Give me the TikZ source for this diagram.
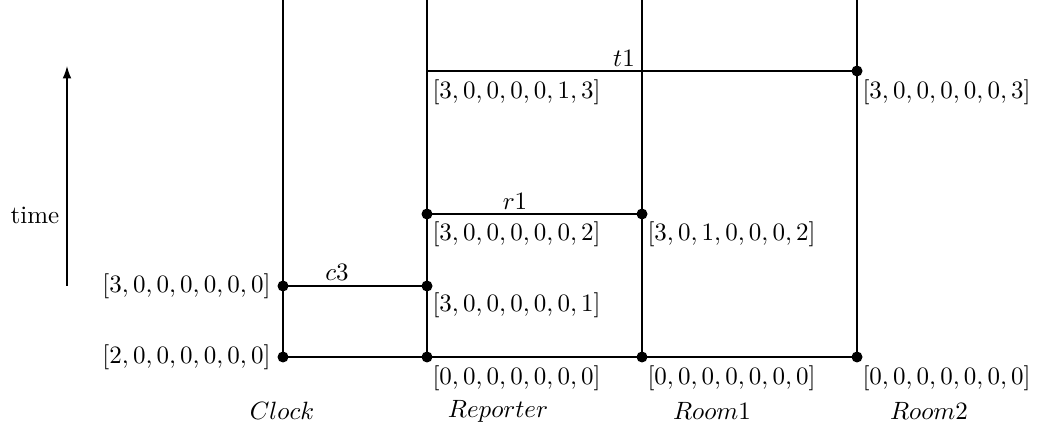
\documentclass[tikz,border=0pt]{standalone}
\usetikzlibrary{arrows.meta}
\begin{document}
\begin{tikzpicture}[x=0.4pt,y=-0.4pt,
  dot/.style={circle,fill,inner sep=0pt,minimum size=4.4pt},
  vecl/.style={inner sep=0pt,anchor=east},
  vecb/.style={inner sep=0pt,anchor=north west},
  evt/.style={inner sep=0pt,anchor=base},
  proc/.style={inner sep=0pt},
  ln/.style={line width=0.5pt}]
\useasboundingbox (0,0) rectangle (1038,431);
% tops of process lines
\coordinate (ctop) at (283,0);
\coordinate (rtop) at (427,0);
\coordinate (otop) at (642,0);
\coordinate (ttop) at (857,0);
% events
\node[dot] (cb) at (283,357) {};
\node[dot] (cc) at (283,286) {};
\node[dot] (rb) at (427,357) {};
\node[dot] (rc) at (427,286) {};
\node[dot] (rr) at (427,214) {};
\coordinate (rt) at (427,71);
\node[dot] (ob) at (642,357) {};
\node[dot] (or) at (642,214) {};
\node[dot] (tb) at (857,357) {};
\node[dot] (tt) at (857,71) {};
% lines
\draw[ln] (ctop) -- (cb.center);
\draw[ln] (rtop) -- (rb.center);
\draw[ln] (otop) -- (ob.center);
\draw[ln] (ttop) -- (tb.center);
\draw[ln] (cb.center) -- (rb.center) -- (ob.center) -- (tb.center);
\draw[ln] (cc.center) -- (rc.center);
\draw[ln] (rr.center) -- (or.center);
\draw[ln] (rt) -- (tt.center);
% event labels
\node[evt] (lc3) at (337,281) {$c3$};
\node[evt] (lr1) at (515,210) {$r1$};
\node[evt] (lt1) at (624,67) {$t1$};
% vector clocks
\node[vecl] (vcb) at (271,357) {$[2,0,0,0,0,0,0]$};
\node[vecl] (vcc) at (271,286) {$[3,0,0,0,0,0,0]$};
\node[vecb] (vrb) at (432,365) {$[0,0,0,0,0,0,0]$};
\node[vecb] (vob) at (647,365) {$[0,0,0,0,0,0,0]$};
\node[vecb] (vtb) at (862,365) {$[0,0,0,0,0,0,0]$};
\node[vecb] (vrc) at (432,292) {$[3,0,0,0,0,0,1]$};
\node[vecb] (vrr) at (432,221) {$[3,0,0,0,0,0,2]$};
\node[vecb] (vor) at (647,221) {$[3,0,1,0,0,0,2]$};
\node[vecb] (vrt) at (432,79) {$[3,0,0,0,0,1,3]$};
\node[vecb] (vtt) at (862,79) {$[3,0,0,0,0,0,3]$};
% process names
\node[proc] (nc) at (282,411) {$Clock$};
\node[proc] (nr) at (498,411) {$Reporter$};
\node[proc] (no) at (712,411) {$Room1$};
\node[proc] (nt) at (929,411) {$Room2$};
% time arrow
\coordinate (tlo) at (67,286);
\coordinate (thi) at (67,66);
\draw[ln,-{Latex[length=5pt,width=3.5pt]}] (tlo) -- (thi);
\node[proc] (time) at (35,215) {time};
\end{tikzpicture}
\end{document}
